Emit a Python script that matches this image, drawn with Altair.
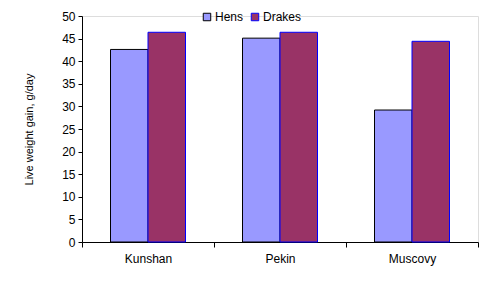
import altair as alt
import pandas as pd

breeds = ["Kunshan", "Pekin", "Muscovy"]
sexes = ["Hens", "Drakes"]
hens = [42.6, 45.1, 29.2]
drakes = [46.4, 46.4, 44.4]

rows = []
for i, b in enumerate(breeds):
    rows.append({"breed": b, "sex": "Hens", "gain": hens[i]})
    rows.append({"breed": b, "sex": "Drakes", "gain": drakes[i]})
df = pd.DataFrame(rows)

FONT = "Liberation Sans"

chart = alt.Chart(df).mark_bar(strokeWidth=1).encode(
    x=alt.X("breed:N", sort=breeds, title=None,
            scale=alt.Scale(paddingInner=0, paddingOuter=0),
            axis=alt.Axis(tickBand="extent", labelAngle=0, tickSize=5,
                          labelPadding=6, domainColor="black", tickColor="black",
                          labelColor="black", labelFont=FONT, labelFontSize=12)),
    xOffset=alt.XOffset("sex:N", sort=sexes, scale=alt.Scale(paddingOuter=0.76, paddingInner=0)),
    y=alt.Y("gain:Q", title="Live weight gain, g/day",
            scale=alt.Scale(domain=[0, 50], nice=False),
            axis=alt.Axis(values=list(range(0, 51, 5)), tickSize=4, labelPadding=3,
                          grid=False, domainColor="black", tickColor="black",
                          labelColor="black", labelFont=FONT, labelFontSize=12,
                          titleFont=FONT, titleFontSize=11, titleFontWeight="normal",
                          titleColor="black", titlePadding=27)),
    color=alt.Color("sex:N", sort=sexes, title=None,
                    scale=alt.Scale(domain=sexes, range=["#9999FF", "#993366"]),
                    legend=alt.Legend(orient="none", legendX=119, legendY=-5, direction="horizontal",
                                      symbolType="square", symbolSize=56, symbolStrokeWidth=1,
                                      labelFont=FONT, labelFontSize=12, labelColor="black",
                                      columnPadding=5, labelOffset=2)),
    stroke=alt.Stroke("sex:N", sort=sexes, title=None,
                      scale=alt.Scale(domain=sexes, range=["black", "#0000FF"])),
).properties(
    width=396, height=226,
    autosize=alt.AutoSizeParams(type="none"),
    padding={"left": 82, "top": 16, "right": 15, "bottom": 46},
).configure_view(stroke=None).configure(background="white")

chart.save("out.html", embed_options={"renderer": "svg", "actions": False})
